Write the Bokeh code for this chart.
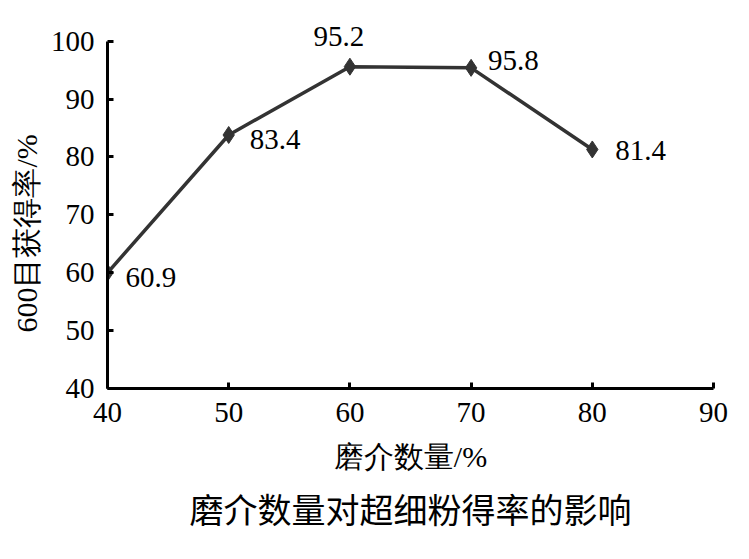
from bokeh.plotting import figure
from bokeh.models import Title, Label, FixedTicker, Range1d
from bokeh.embed import file_html
from bokeh.resources import INLINE

media_amount = [40, 50, 60, 70, 80]
yield_pct = [60.0, 83.8, 95.6, 95.4, 81.3]
point_labels = ["60.9", "83.4", "95.2", "95.8", "81.4"]
x_ticks = [40, 50, 60, 70, 80, 90]
y_ticks = [40, 50, 60, 70, 80, 90, 100]
x_title = "磨介数量/%"
y_title = "600目获得率/%"
chart_title = "磨介数量对超细粉得率的影响"

SERIF = "Liberation Serif"

p = figure(width=733, height=543, output_backend="svg", toolbar_location=None,
           x_range=Range1d(40, 90), y_range=Range1d(40, 106),
           min_border_left=107, min_border_right=20,
           min_border_top=6, min_border_bottom=155)
p.outline_line_color = None
p.xgrid.grid_line_color = None
p.ygrid.grid_line_color = None
p.background_fill_color = "white"

p.line(media_amount, yield_pct, line_color="#333333", line_width=3.5)
p.scatter(media_amount, yield_pct, marker="diamond", size=17, color="#333333")

offsets = [(18, -5), (21, -5), (-11, 30), (17, 7), (23, -1)]
for xv, yv, txt, (dx, dy) in zip(media_amount, yield_pct, point_labels, offsets):
    align = "center" if dy > 20 else "left"
    p.add_layout(Label(x=xv, y=yv, text=txt, x_offset=dx, y_offset=dy,
                       text_align=align, text_baseline="middle",
                       text_font=SERIF, text_font_size="29px", text_color="black"))

for ax in (p.xaxis[0], p.yaxis[0]):
    ax.axis_line_width = 3
    ax.axis_line_color = "black"
    ax.major_tick_line_width = 3
    ax.major_tick_line_color = "black"
    ax.major_tick_in = 6
    ax.major_tick_out = 0
    ax.minor_tick_line_color = None
    ax.major_label_text_font = SERIF
    ax.major_label_text_font_size = "29px"
    ax.major_label_text_color = "black"
    ax.axis_label_text_font = SERIF
    ax.axis_label_text_font_size = "30px"
    ax.axis_label_text_font_style = "normal"
    ax.axis_label_text_color = "black"

p.yaxis.bounds = (40, 100)
p.xaxis.ticker = FixedTicker(ticks=x_ticks)
p.yaxis.ticker = FixedTicker(ticks=y_ticks)
p.xaxis.axis_label = x_title
p.xaxis.major_label_standoff = 14
p.yaxis.major_label_standoff = 13
p.xaxis.axis_label_standoff = 15

p.add_layout(Title(text=y_title, align="left", text_font=SERIF,
                   text_font_size="30px", text_font_style="normal",
                   text_color="black", standoff=10, offset=56), "left")

p.add_layout(Title(text=chart_title, align="center", text_font="Noto Sans CJK SC",
                   text_font_size="34px", text_font_style="normal",
                   text_color="black", standoff=12), "below")

open("out.html", "w").write(file_html(p, INLINE))
